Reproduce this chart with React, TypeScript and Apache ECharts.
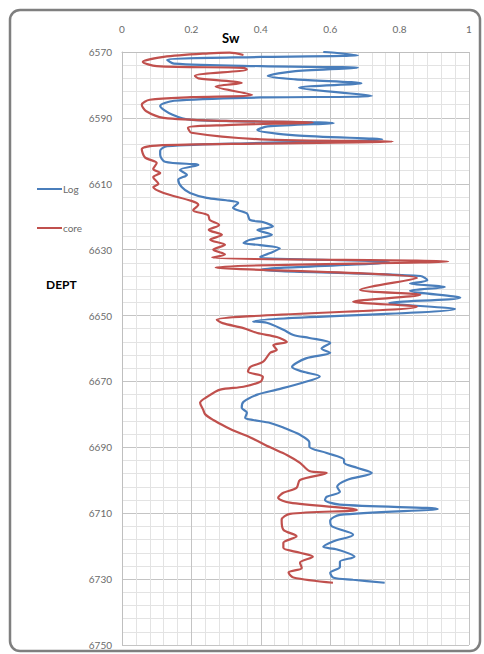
import React, { useEffect, useRef } from "react";
import * as echarts from "echarts";

const xTicks = [0, 0.2, 0.4, 0.6, 0.8, 1];
const depthTicks = [6570, 6590, 6610, 6630, 6650, 6670, 6690, 6710, 6730, 6750];

const logDepth = [
  6570.0, 6570.3, 6571.0, 6571.5, 6572.4, 6573.5, 6574.3, 6574.8, 6575.8, 6577.3,
  6578.3, 6579.5, 6580.8, 6583.3, 6583.8, 6584.8, 6586.4, 6589.0, 6590.6, 6591.6,
  6592.6, 6593.7, 6595.3, 6596.5, 6597.6, 6598.6, 6600.0, 6601.2, 6603.3, 6604.3,
  6605.8, 6607.3, 6608.8, 6611.0, 6612.8, 6614.3, 6615.0, 6615.8, 6617.3, 6619.0,
  6621.0, 6621.6, 6623.0, 6624.0, 6625.5, 6627.0, 6628.0, 6628.6, 6629.6, 6631.0,
  6632.2, 6633.8, 6636.0, 6638.0, 6639.3, 6640.3, 6641.3, 6642.5, 6644.6, 6646.2,
  6648.0, 6651.8, 6652.2, 6654.3, 6655.9, 6656.8, 6658.3, 6660.0, 6661.3, 6663.0,
  6665.6, 6667.0, 6668.5, 6670.4, 6672.5, 6674.0, 6676.2, 6678.0, 6679.5, 6681.0,
  6681.7, 6682.6, 6684.0, 6686.2, 6688.5, 6689.8, 6691.7, 6693.8, 6694.7, 6696.2,
  6697.8, 6699.9, 6702.0, 6703.5, 6705.0, 6706.0, 6707.4, 6708.7, 6710.5, 6712.3,
  6714.0, 6716.5, 6718.6, 6720.2, 6721.0, 6723.2, 6724.7, 6726.3, 6728.1, 6729.6,
  6730.2, 6731.1,
];
const logSw = [
  0.58, 0.62, 0.68, 0.40, 0.13, 0.15, 0.40, 0.68, 0.50, 0.42,
  0.50, 0.69, 0.51, 0.72, 0.40, 0.15, 0.11, 0.144, 0.20, 0.61,
  0.42, 0.39, 0.50, 0.75, 0.40, 0.13, 0.11, 0.11, 0.124, 0.22,
  0.167, 0.187, 0.162, 0.172, 0.196, 0.244, 0.30, 0.335, 0.32, 0.36,
  0.369, 0.406, 0.435, 0.39, 0.432, 0.369, 0.35, 0.398, 0.455, 0.427,
  0.398, 0.77, 0.40, 0.86, 0.88, 0.83, 0.93, 0.83, 0.975, 0.77,
  0.96, 0.378, 0.417, 0.465, 0.494, 0.54, 0.60, 0.575, 0.60, 0.53,
  0.49, 0.52, 0.57, 0.52, 0.446, 0.39, 0.35, 0.345, 0.36, 0.355,
  0.378, 0.427, 0.465, 0.513, 0.54, 0.54, 0.59, 0.64, 0.64, 0.677,
  0.72, 0.648, 0.62, 0.628, 0.59, 0.585, 0.628, 0.91, 0.628, 0.60,
  0.605, 0.666, 0.608, 0.58, 0.62, 0.67, 0.628, 0.628, 0.60, 0.61,
  0.666, 0.757,
];

const coreDepth = [
  6570.9, 6570.2, 6570.4, 6571.5, 6573.0, 6574.3, 6574.8, 6575.3, 6577.2, 6578.0,
  6579.4, 6580.5, 6583.0, 6583.7, 6584.5, 6586.0, 6588.0, 6590.0, 6590.9, 6591.4,
  6592.2, 6593.0, 6594.5, 6596.5, 6597.2, 6597.8, 6598.4, 6599.5, 6602.0, 6603.7,
  6605.5, 6606.7, 6608.0, 6610.0, 6611.0, 6612.8, 6615.2, 6616.4, 6618.0, 6619.5,
  6621.0, 6622.5, 6624.0, 6625.5, 6627.0, 6628.5, 6630.0, 6631.4, 6632.4, 6633.6,
  6635.4, 6638.6, 6642.2, 6643.7, 6645.8, 6647.3, 6651.3, 6652.3, 6653.8, 6655.3,
  6656.5, 6658.0, 6659.0, 6660.4, 6661.3, 6664.0, 6665.6, 6667.0, 6668.6, 6670.0,
  6671.6, 6672.5, 6674.7, 6676.5, 6678.6, 6680.0, 6681.7, 6683.8, 6685.3, 6687.0,
  6690.0, 6692.3, 6694.7, 6697.2, 6697.8, 6699.9, 6702.3, 6703.8, 6705.3, 6706.8,
  6709.0, 6710.2, 6712.0, 6715.0, 6717.0, 6719.0, 6720.5, 6722.0, 6723.2, 6725.0,
  6726.6, 6728.0, 6729.5, 6731.1,
];
const coreSw = [
  0.35, 0.31, 0.25, 0.12, 0.06, 0.10, 0.35, 0.36, 0.21, 0.22,
  0.345, 0.27, 0.375, 0.20, 0.08, 0.057, 0.07, 0.12, 0.30, 0.55,
  0.30, 0.19, 0.20, 0.40, 0.78, 0.40, 0.10, 0.057, 0.066, 0.10,
  0.09, 0.11, 0.09, 0.105, 0.09, 0.12, 0.20, 0.22, 0.205, 0.248,
  0.253, 0.28, 0.25, 0.288, 0.254, 0.297, 0.263, 0.297, 0.26, 0.94,
  0.27, 0.85, 0.686, 0.86, 0.666, 0.85, 0.273, 0.29, 0.35, 0.39,
  0.446, 0.475, 0.436, 0.446, 0.427, 0.407, 0.37, 0.363, 0.406, 0.40,
  0.35, 0.283, 0.245, 0.225, 0.234, 0.24, 0.263, 0.30, 0.33, 0.37,
  0.427, 0.475, 0.513, 0.54, 0.59, 0.513, 0.503, 0.465, 0.45, 0.484,
  0.677, 0.484, 0.46, 0.465, 0.503, 0.465, 0.465, 0.513, 0.55, 0.513,
  0.518, 0.48, 0.494, 0.608,
];

const BLUE = "#4a7ebb";
const RED = "#c0504d";
const FONT = "Lato, 'Open Sans', sans-serif";

export default function App() {
  const ref = useRef<HTMLDivElement>(null);
  useEffect(() => {
    if (!ref.current) return;
    const chart = echarts.init(ref.current, undefined, { renderer: "svg" });
    const logData = logDepth.map((d, i) => [logSw[i], d]);
    const coreData = coreDepth.map((d, i) => [coreSw[i], d]);
    chart.setOption({
      animation: false,
      backgroundColor: "#ffffff",
      grid: { left: 122, right: 15, top: 52, bottom: 9, containLabel: false },
      xAxis: {
        type: "value",
        position: "top",
        min: xTicks[0],
        max: xTicks[xTicks.length - 1],
        interval: 0.2,
        axisLine: { show: true, lineStyle: { color: "#bfbfbf" } },
        axisTick: { show: false },
        axisLabel: { margin: 18, color: "#6b6b6b", fontSize: 10, fontFamily: FONT },
        splitLine: { show: true, lineStyle: { color: "#c4c4c4", width: 1 } },
        minorTick: { show: false, splitNumber: 5 },
        minorSplitLine: { show: true, lineStyle: { color: "#e3e3e3", width: 1 } },
      },
      yAxis: {
        type: "value",
        inverse: true,
        min: depthTicks[0],
        max: depthTicks[depthTicks.length - 1],
        interval: 20,
        axisLine: { show: true, lineStyle: { color: "#bfbfbf" } },
        axisTick: { show: false },
        axisLabel: {
          margin: 10,
          color: "#6b6b6b",
          fontSize: 10,
          fontFamily: FONT,
          formatter: (v: number) => String(v),
        },
        splitLine: { show: true, lineStyle: { color: "#c4c4c4", width: 1 } },
        minorTick: { show: false, splitNumber: 5 },
        minorSplitLine: { show: true, lineStyle: { color: "#e3e3e3", width: 1 } },
      },
      legend: {
        orient: "vertical",
        left: 32,
        top: 179,
        icon: "rect",
        itemWidth: 25,
        itemHeight: 2,
        itemGap: 29,
        textStyle: { color: "#6b6b6b", fontSize: 10, fontFamily: FONT, padding: [0, 0, 0, -4] },
        data: ["Log", "core"],
      },
      graphic: [
        {
          type: "rect",
          shape: { x: 10, y: 10, width: 470, height: 641, r: 10 },
          style: { fill: "none", stroke: "#7f7f7f", lineWidth: 2.5 },
          silent: true,
          z: 100,
        },
        {
          type: "text",
          left: 222,
          top: 31,
          style: { text: "Sw", font: `bold 13px ${FONT}`, fill: "#000000" },
        },
        {
          type: "text",
          left: 46,
          top: 278,
          style: { text: "DEPT", font: `bold 12px ${FONT}`, fill: "#000000" },
        },
      ],
      series: [
        {
          name: "Log",
          type: "line",
          data: logData,
          smooth: 0.3,
          symbol: "none",
          lineStyle: { color: BLUE, width: 2.2 },
          itemStyle: { color: BLUE },
          z: 3,
        },
        {
          name: "core",
          type: "line",
          data: coreData,
          smooth: 0.3,
          symbol: "none",
          lineStyle: { color: RED, width: 2.2 },
          itemStyle: { color: RED },
          z: 4,
        },
      ],
    });
    return () => chart.dispose();
  }, []);
  return (
    <div
      ref={ref}
      style={{ position: "fixed", left: 0, top: 0, width: 484, height: 654 }}
    />
  );
}
